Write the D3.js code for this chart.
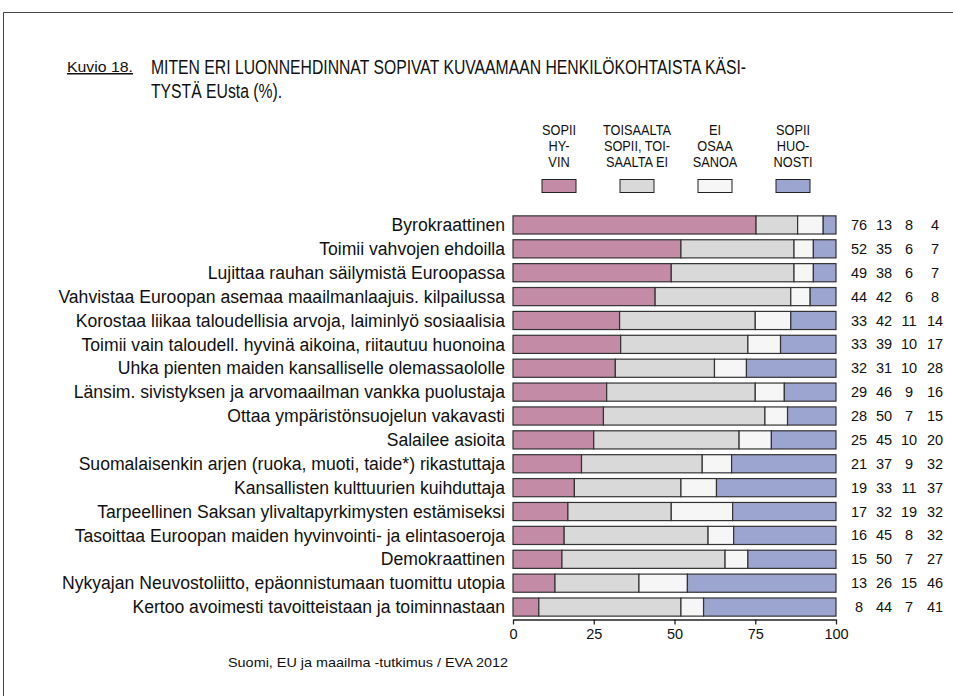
<!DOCTYPE html>
<html>
<head>
<meta charset="utf-8">
<script src="https://cdn.jsdelivr.net/npm/d3@7"></script>
<style>
  body { margin: 0; background: #fff; }
  text { font-family: "Liberation Sans", Arial, sans-serif; fill: #111; }
</style>
</head>
<body>
<svg id="chart" width="953" height="696"></svg>
<script>
// data
var categories = [
  "Byrokraattinen",
  "Toimii vahvojen ehdoilla",
  "Lujittaa rauhan säilymistä Euroopassa",
  "Vahvistaa Euroopan asemaa maailmanlaajuis. kilpailussa",
  "Korostaa liikaa taloudellisia arvoja, laiminlyö sosiaalisia",
  "Toimii vain taloudell. hyvinä aikoina, riitautuu huonoina",
  "Uhka pienten maiden kansalliselle olemassaololle",
  "Länsim. sivistyksen ja arvomaailman vankka puolustaja",
  "Ottaa ympäristönsuojelun vakavasti",
  "Salailee asioita",
  "Suomalaisenkin arjen (ruoka, muoti, taide*) rikastuttaja",
  "Kansallisten kulttuurien kuihduttaja",
  "Tarpeellinen Saksan ylivaltapyrkimysten estämiseksi",
  "Tasoittaa Euroopan maiden hyvinvointi- ja elintasoeroja",
  "Demokraattinen",
  "Nykyajan Neuvostoliitto, epäonnistumaan tuomittu utopia",
  "Kertoo avoimesti tavoitteistaan ja toiminnastaan"
]
var sopiiHyvin = [76, 52, 49, 44, 33, 33, 32, 29, 28, 25, 21, 19, 17, 16, 15, 13, 8]
var toisaalta  = [13, 35, 38, 42, 42, 39, 31, 46, 50, 45, 37, 33, 32, 45, 50, 26, 44]
var eiOsaa     = [8, 6, 6, 6, 11, 10, 10, 9, 7, 10, 9, 11, 19, 8, 7, 15, 7]
var huonosti   = [4, 7, 7, 8, 14, 17, 28, 16, 15, 20, 32, 37, 32, 32, 27, 46, 41]
var seriesKeys = ["hyvin", "toisaalta", "eiosaa", "huonosti"]
var legendLabels = [
  ["SOPII", "HY-", "VIN"],
  ["TOISAALTA", "SOPII, TOI-", "SAALTA EI"],
  ["EI", "OSAA", "SANOA"],
  ["SOPII", "HUO-", "NOSTI"]
]
var tickValues = [0, 25, 50, 75, 100]
var colors = ["#c48ba6", "#d9d9d9", "#f6f6f6", "#9ba5d0"]

var rows = categories.map(function(c, i) {
  return {cat: c, hyvin: sopiiHyvin[i], toisaalta: toisaalta[i], eiosaa: eiOsaa[i], huonosti: huonosti[i]}
})

var svg = d3.select("#chart")

// frame
svg.append("path")
  .attr("d", "M3.5,696 V12.5 H953")
  .attr("fill", "none").attr("stroke", "#444").attr("stroke-width", 1)

// title
var title = svg.append("g")
title.append("text").attr("x", 67).attr("y", 72)
  .style("font-size", "15px").style("text-decoration", "underline")
  .attr("textLength", 66).attr("lengthAdjust", "spacingAndGlyphs")
  .text("Kuvio 18.")
var t1 = title.append("text").attr("x", 151).attr("y", 73.5).style("font-size", "20px")
  .text("MITEN ERI LUONNEHDINNAT SOPIVAT KUVAAMAAN HENKILÖKOHTAISTA KÄSI-")
var nat = t1.node().getComputedTextLength()
var sx = 595 / nat
t1.attr("textLength", 595).attr("lengthAdjust", "spacingAndGlyphs")
var t2 = title.append("text").attr("x", 151).attr("y", 98).style("font-size", "20px")
  .text("TYSTÄ EUsta (%).")
t2.attr("textLength", t2.node().getComputedTextLength() * sx).attr("lengthAdjust", "spacingAndGlyphs")

// scales
var x = d3.scaleLinear().domain([0, 1]).range([513, 836])
var y = d3.scaleBand().domain(categories).range([213, 619]).paddingInner(0.24).paddingOuter(0.12)

var stack = d3.stack().keys(seriesKeys).offset(d3.stackOffsetExpand)
var stacked = stack(rows)

// legend
var legendX = d3.scalePoint().domain(seriesKeys).range([559, 793])
var leg = svg.append("g").selectAll("g").data(seriesKeys).enter().append("g")
  .attr("transform", function(d) { return "translate(" + legendX(d) + ",0)" })
leg.each(function(d, i) {
  var g = d3.select(this)
  legendLabels[i].forEach(function(line, j) {
    var tx = g.append("text").attr("x", 0).attr("y", 134.5 + j * 16)
      .attr("text-anchor", "middle").style("font-size", "14.5px").text(line)
    var w = tx.node().getComputedTextLength()
    tx.attr("textLength", w * 0.88).attr("lengthAdjust", "spacingAndGlyphs")
  })
  g.append("rect").attr("x", -17).attr("y", 179.5).attr("width", 34).attr("height", 13)
    .attr("fill", colors[i]).attr("stroke", "#222").attr("stroke-width", 1)
})

// bars
svg.append("g").selectAll("g").data(stacked).enter().append("g")
  .attr("fill", function(d, i) { return colors[i] })
  .selectAll("rect").data(function(d) { return d }).enter().append("rect")
    .attr("x", function(d) { return x(d[0]) })
    .attr("y", function(d) { return y(d.data.cat) })
    .attr("width", function(d) { return x(d[1]) - x(d[0]) })
    .attr("height", y.bandwidth())
    .attr("stroke", "#333").attr("stroke-width", 1.2)

// category labels
svg.append("g").selectAll("text").data(categories).enter().append("text")
  .attr("x", 505).attr("y", function(d) { return y(d) + y.bandwidth() / 2 })
  .attr("dy", "0.35em").attr("text-anchor", "end").style("font-size", "17.6px")
  .text(function(d) { return d })

// value columns
var colX = [859, 884, 909, 935]
var numG = svg.append("g")
seriesKeys.forEach(function(k, j) {
  numG.selectAll("text.c" + j).data(rows).enter().append("text").attr("class", "c" + j)
    .attr("x", colX[j]).attr("y", function(d) { return y(d.cat) + y.bandwidth() / 2 })
    .attr("dy", "0.35em").attr("text-anchor", "middle").style("font-size", "14.5px")
    .text(function(d) { return d[k] })
})

// axis
var axis = d3.axisBottom(x).tickValues(tickValues.map(function(v) { return v / 100 }))
  .tickFormat(function(d) { return Math.round(d * 100) }).tickSize(5).tickSizeOuter(0)
var ax = svg.append("g").attr("transform", "translate(0,619.5)").call(axis)
ax.select(".domain").attr("stroke", "#222").attr("stroke-width", 1.3)
ax.selectAll(".tick line").attr("stroke", "#222").attr("stroke-width", 1.3)
ax.selectAll(".tick text").style("font-size", "14.5px").style("font-family", "Liberation Sans, Arial, sans-serif")
  .attr("fill", "#111").attr("dy", "0.9em").attr("y", 6)

// source
var src = svg.append("text").attr("x", 368).attr("y", 667).attr("text-anchor", "middle")
  .style("font-size", "13px").text("Suomi, EU ja maailma -tutkimus / EVA 2012")
src.attr("textLength", 280).attr("lengthAdjust", "spacingAndGlyphs")
</script>
</body>
</html>
